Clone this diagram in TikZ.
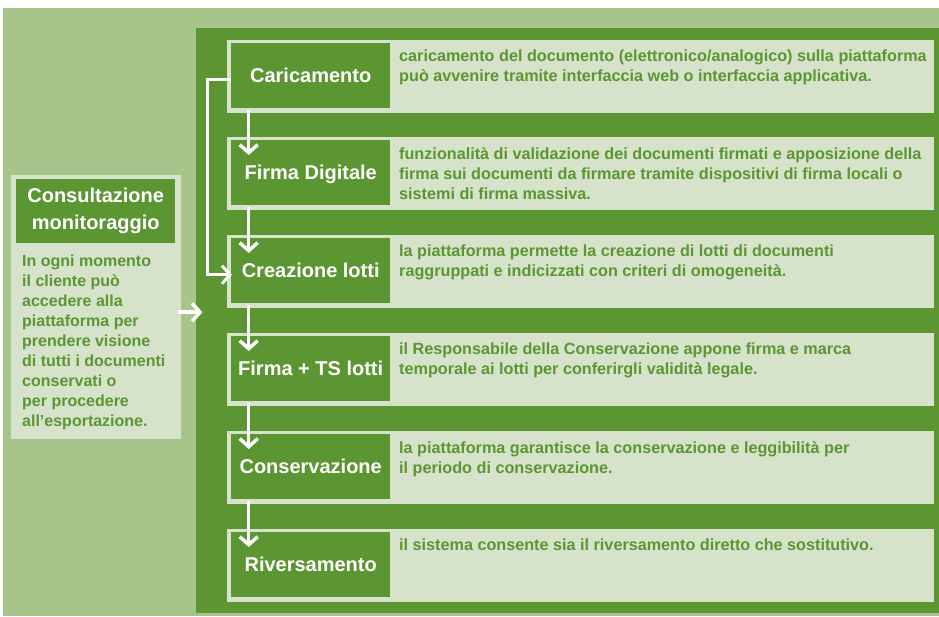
\documentclass[tikz,border=0pt]{standalone}
\usepackage{fontspec}
\setmainfont{Liberation Sans}
\usetikzlibrary{arrows.meta}
\definecolor{dg}{HTML}{5B9632}
\definecolor{lg}{HTML}{A7C48A}
\definecolor{pg}{HTML}{D6E2CA}
\begin{document}
\begin{tikzpicture}[x=1pt,y=-1pt,
  blk/.style={draw=none,inner sep=0pt,anchor=north west,rectangle},
  panel/.style={blk,fill=pg,minimum width=707pt,minimum height=73pt},
  lab/.style={blk,fill=dg,minimum width=159pt,minimum height=65pt,text=white,
    font=\fontsize{20}{24}\selectfont\bfseries,text height=14.5pt,text depth=0.5pt},
  desc/.style={inner sep=0pt,anchor=north west,align=left,text=dg,
    font=\fontsize{16.2}{20}\selectfont\bfseries},
  arr/.style={draw=white,line width=3.5pt,-{Straight Barb[length=8pt,width=18pt]}}]
\useasboundingbox (0,0) rectangle (939,616);
\fill[white] (0,0) rectangle (939,616);
\fill[lg] (3,8) rectangle (939,616);
\node[blk,fill=dg,minimum width=743pt,minimum height=585pt] (main) at (196,28) {};
% left panel
\node[blk,fill=pg,minimum width=170pt,minimum height=264pt] (cons) at (11,175) {};
\node[blk,fill=dg,minimum width=159pt,minimum height=64pt,text=white,align=center,
  font=\fontsize{20}{27}\selectfont\bfseries] (conshead) at (16,179) {Consultazione\\monitoraggio};
\node[inner sep=0pt,anchor=north west,align=left,text=dg,
  font=\fontsize{16}{20}\selectfont\bfseries] (constext) at (22,255)
  {In ogni momento\\il cliente può\\accedere alla\\piattaforma per\\prendere visione\\di tutti i documenti\\conservati o\\per procedere\\all’esportazione.};
% rows
\node[panel] (p1) at (227,40) {};
\node[panel] (p2) at (227,137) {};
\node[panel] (p3) at (227,235) {};
\node[panel] (p4) at (227,333) {};
\node[panel] (p5) at (227,431) {};
\node[panel] (p6) at (227,529) {};
\node[lab] (l1) at (231,43) {Caricamento};
\node[lab] (l2) at (231,140) {Firma Digitale};
\node[lab] (l3) at (231,238) {Creazione lotti};
\node[lab] (l4) at (231,336) {Firma + TS lotti};
\node[lab] (l5) at (231,434) {Conservazione};
\node[lab] (l6) at (231,532) {Riversamento};
\node[desc] (d1) at (399,50) {caricamento del documento (elettronico/analogico) sulla piattaforma\\può avvenire tramite interfaccia web o interfaccia applicativa.};
\node[desc] (d2) at (399,147) {funzionalità di validazione dei documenti firmati e apposizione della\\firma sui documenti da firmare tramite dispositivi di firma locali o\\sistemi di firma massiva.};
\node[desc] (d3) at (399,245) {la piattaforma permette la creazione di lotti di documenti\\raggruppati e indicizzati con criteri di omogeneità.};
\node[desc] (d4) at (399,343) {il Responsabile della Conservazione appone firma e marca\\temporale ai lotti per conferirgli validità legale.};
\node[desc] (d5) at (399,441) {la piattaforma garantisce la conservazione e leggibilità per\\il periodo di conservazione.};
\node[desc] (d6) at (399,539) {il sistema consente sia il riversamento diretto che sostitutivo.};
% arrows
\draw[arr] ([xshift=-62pt,yshift=-2pt]l1.south) -- ([xshift=-62pt,yshift=-15pt]l2.north);
\draw[arr] ([xshift=-62pt,yshift=-2pt]l2.south) -- ([xshift=-62pt,yshift=-15pt]l3.north);
\draw[arr] ([xshift=-62pt,yshift=-2pt]l3.south) -- ([xshift=-62pt,yshift=-15pt]l4.north);
\draw[arr] ([xshift=-62pt,yshift=-2pt]l4.south) -- ([xshift=-62pt,yshift=-15pt]l5.north);
\draw[arr] ([xshift=-62pt,yshift=-2pt]l5.south) -- ([xshift=-62pt,yshift=-15pt]l6.north);
\draw[arr,line width=3pt] ([yshift=-4pt]l1.west) -- ++(-24,0) |- ([yshift=-4pt,xshift=1pt]l3.west);
\draw[arr] ([xshift=-3pt,yshift=-5pt]cons.east) -- ++(24,0);
\end{tikzpicture}
\end{document}
